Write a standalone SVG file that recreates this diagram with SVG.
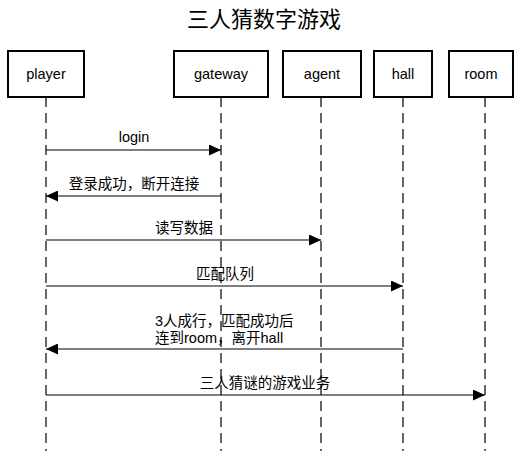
<svg xmlns="http://www.w3.org/2000/svg" width="528" height="451" viewBox="0 0 528 451">
<defs>
<style>
text{font-family:"Liberation Sans","Noto Sans CJK SC",sans-serif;fill:#000}
.title{font-size:22px;text-anchor:middle}
.box rect{fill:#fff;stroke:#000;stroke-width:2}
.box text{font-size:14.5px;text-anchor:middle}
.life{stroke:#000;stroke-width:1.2;stroke-dasharray:10 6;fill:none}
.msg line{stroke:#000;stroke-width:1.2}
.msg text{font-size:14.5px;text-anchor:middle}
</style>
<marker id="ah" markerWidth="12" markerHeight="11" refX="12" refY="5.5" orient="auto" markerUnits="userSpaceOnUse">
<path d="M0,0 L12,5.5 L0,11 Z" fill="#000"/>
</marker>
</defs>
<rect width="528" height="451" fill="#fff"/>
<text class="title" x="264" y="27">三人猜数字游戏</text>
<g id="lifelines">
<line class="life" x1="46" y1="97" x2="46" y2="451"/>
<line class="life" x1="221" y1="97" x2="221" y2="451"/>
<line class="life" x1="321" y1="97" x2="321" y2="451"/>
<line class="life" x1="403" y1="97" x2="403" y2="451"/>
<line class="life" x1="485" y1="97" x2="485" y2="451"/>
</g>
<g id="player" class="box"><rect x="8" y="51" width="76" height="46"/><text x="46" y="79">player</text></g>
<g id="gateway" class="box"><rect x="174" y="51" width="94" height="46"/><text x="221" y="79">gateway</text></g>
<g id="agent" class="box"><rect x="283" y="51" width="78" height="46"/><text x="322" y="79">agent</text></g>
<g id="hall" class="box"><rect x="374" y="51" width="58" height="46"/><text x="403" y="79">hall</text></g>
<g id="room" class="box"><rect x="449" y="51" width="64" height="46"/><text x="481" y="79">room</text></g>
<g id="connectors" class="msg">
<line x1="46" y1="150" x2="221" y2="150" marker-end="url(#ah)"/>
<text x="134" y="142">login</text>
<line x1="221" y1="196" x2="46" y2="196" marker-end="url(#ah)"/>
<text x="134" y="189">登录成功，断开连接</text>
<line x1="46" y1="240" x2="321" y2="240" marker-end="url(#ah)"/>
<text x="184" y="233">读写数据</text>
<line x1="46" y1="286" x2="403" y2="286" marker-end="url(#ah)"/>
<text x="225" y="279">匹配队列</text>
<line x1="403" y1="349" x2="46" y2="349" marker-end="url(#ah)"/>
<text x="155" y="326" style="text-anchor:start">3人成行，匹配成功后</text>
<text x="155" y="343" style="text-anchor:start">连到room，离开hall</text>
<line x1="46" y1="395" x2="485" y2="395" marker-end="url(#ah)"/>
<text x="265" y="388">三人猜谜的游戏业务</text>
</g>
</svg>
